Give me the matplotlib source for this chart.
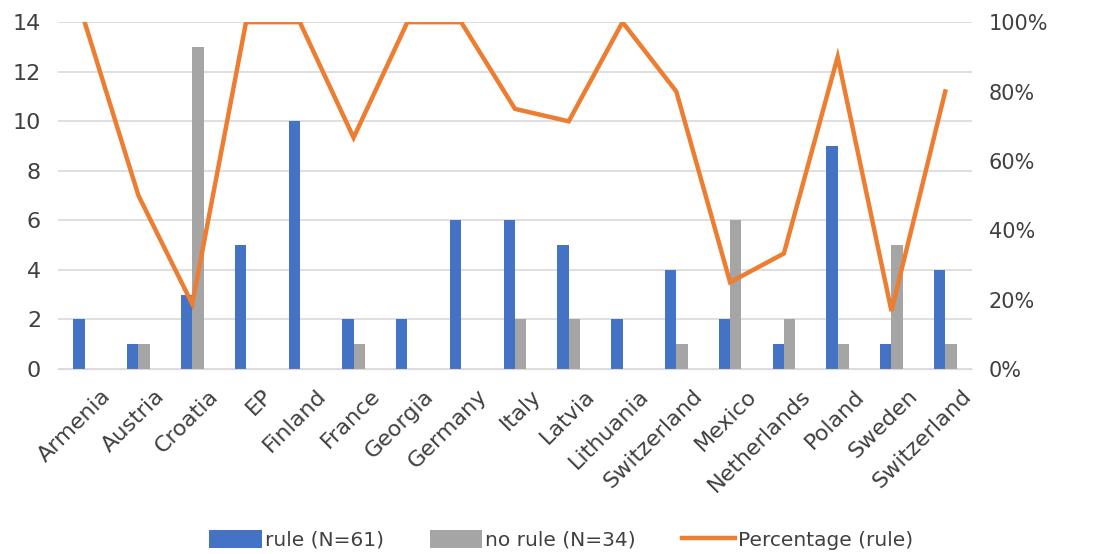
import matplotlib.pyplot as plt
import numpy as np

countries = ["Armenia", "Austria", "Croatia", "EP", "Finland", "France", "Georgia",
             "Germany", "Italy", "Latvia", "Lithuania", "Switzerland", "Mexico",
             "Netherlands", "Poland", "Sweden", "Switzerland"]
rule = [2, 1, 3, 5, 10, 2, 2, 6, 6, 5, 2, 4, 2, 1, 9, 1, 4]
no_rule = [0, 1, 13, 0, 0, 1, 0, 0, 2, 2, 0, 1, 6, 2, 1, 5, 1]
percentage = [1.0, 0.5, 0.1875, 1.0, 1.0, 0.667, 1.0, 1.0, 0.75, 0.714, 1.0, 0.8,
              0.25, 0.333, 0.9, 0.167, 0.8]

plt.rcParams['font.family'] = ['DejaVu Sans']

fig = plt.figure(figsize=(11.11, 5.54), dpi=100)
ax = fig.add_axes([0.052, 0.334, 0.823, 0.626])
ax2 = ax.twinx()

x = np.arange(len(countries))
w = 0.21
ax.bar(x - w / 2, rule, w, color='#4472c4', label='rule (N=61)', zorder=2)
ax.bar(x + w / 2, no_rule, w, color='#a5a5a5', label='no rule (N=34)', zorder=2)
ax2.plot(x, percentage, color='#ed7d31', lw=3.2, label='Percentage (rule)',
         solid_joinstyle='miter')

ax.set_xlim(-0.5, len(countries) - 0.5)
ax.set_ylim(0, 14)
ax.set_yticks(range(0, 15, 2))
ax2.set_ylim(0, 1)
ax2.set_yticks(np.arange(0, 1.01, 0.2))
ax2.set_yticklabels([f"{int(round(v * 100))}%" for v in np.arange(0, 1.01, 0.2)])

# labels end a little right of the category centre, as in the original
ax.set_xticks(x + 0.3)
ax.set_xticklabels(countries, rotation=45, ha='right', rotation_mode='anchor')
ax.grid(axis='y', color='#d9d9d9', lw=1.2, zorder=0)
for a in (ax, ax2):
    for s in a.spines.values():
        s.set_visible(False)
    a.tick_params(length=0, colors='#404040')
ax.spines['bottom'].set_visible(True)
ax.spines['bottom'].set_color('#d9d9d9')
ax.tick_params(axis='x', pad=12, labelsize=16)
ax.tick_params(axis='y', pad=12, labelsize=16)
ax2.tick_params(axis='y', pad=12, labelsize=15)

h1, l1 = ax.get_legend_handles_labels()
h2, l2 = ax2.get_legend_handles_labels()
fig.legend(h1 + h2, l1 + l2, loc='lower center', bbox_to_anchor=(0.505, -0.025),
           ncol=3, frameon=False, fontsize=14.5, handlelength=2.6, handleheight=1.0,
           columnspacing=2.3, handletextpad=0.15, labelcolor='#404040')

fig.savefig('out.png', dpi=100)
